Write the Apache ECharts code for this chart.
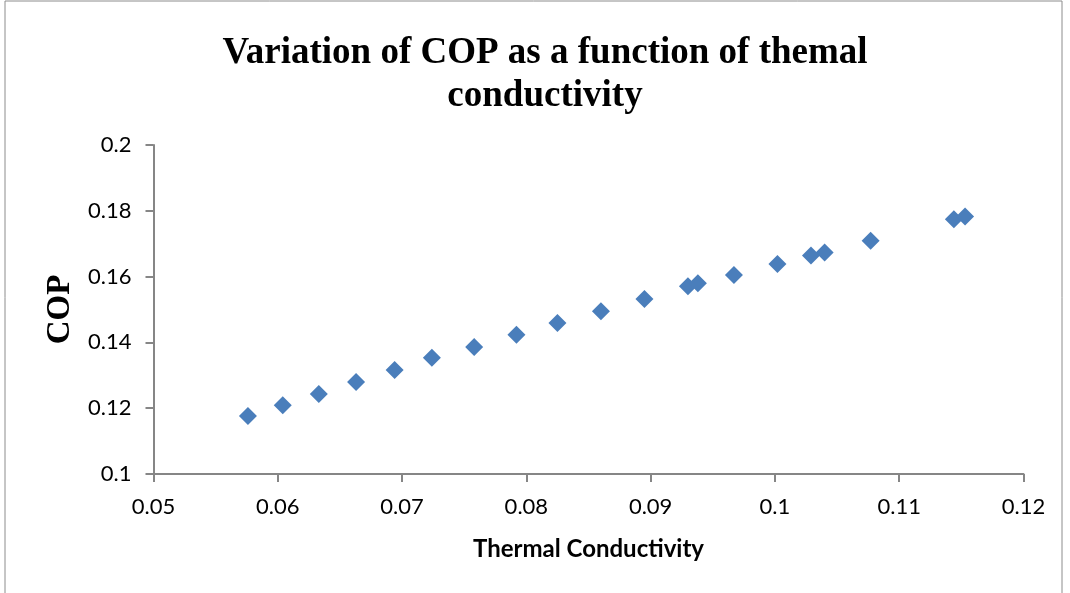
<!DOCTYPE html>
<html>
<head>
<meta charset="utf-8">
<script src="https://cdn.jsdelivr.net/npm/echarts@6/dist/echarts.min.js"></script>
<style>
  html, body { margin: 0; padding: 0; background: #fff; }
  #chart { width: 1070px; height: 593px; }
</style>
</head>
<body>
<div id="chart"></div>
<script>
// conductivity values
const conductivity = [0.0576, 0.0604, 0.0633, 0.0663, 0.0694, 0.0724, 0.0758, 0.0792, 0.0825, 0.0860,
  0.0895, 0.0930, 0.0938, 0.0967, 0.1002, 0.1029, 0.1040, 0.1077, 0.1144, 0.1153];
// COP for each point
const cop = [0.1176, 0.1209, 0.1243, 0.1280, 0.1316, 0.1353, 0.1386, 0.1423, 0.1459, 0.1495,
  0.1532, 0.1571, 0.1580, 0.1605, 0.1638, 0.1664, 0.1673, 0.1709, 0.1774, 0.1783];
const xTicks = [0.05, 0.06, 0.07, 0.08, 0.09, 0.1, 0.11, 0.12];
const yTicks = [0.1, 0.12, 0.14, 0.16, 0.18, 0.2];

const points = conductivity.map((x, i) => [x, cop[i]]);

const chart = echarts.init(document.getElementById('chart'));
const axisGray = '#868686';

const option = {
  animation: false,
  backgroundColor: '#fff',
  title: {
    text: 'Variation of COP as a function of themal\nconductivity',
    left: 540,
    top: 27,
    textAlign: 'center',
    textStyle: {
      fontFamily: '"Liberation Serif", "Times New Roman", serif',
      fontWeight: 'bold',
      fontSize: 37,
      lineHeight: 43,
      color: '#000'
    }
  },
  graphic: [{
    type: 'rect',
    shape: { x: 5, y: 1, width: 1057, height: 640 },
    style: { fill: 'none', stroke: '#8c8c8c', lineWidth: 1 },
    silent: true
  }],
  grid: { left: 153.5, right: 46.5, top: 145, bottom: 119 },
  xAxis: {
    type: 'value',
    min: xTicks[0],
    max: xTicks[xTicks.length - 1],
    interval: 0.01,
    name: 'Thermal Conductivity',
    nameLocation: 'middle',
    nameGap: 63,
    nameTextStyle: { fontFamily: 'Lato, "Open Sans", sans-serif', fontWeight: 'bold', fontSize: 24, color: '#000' },
    axisLine: { lineStyle: { color: axisGray, width: 2 } },
    axisTick: { show: true, length: 8, lineStyle: { color: axisGray, width: 2 } },
    splitLine: { show: false },
    axisLabel: {
      margin: 22,
      fontFamily: 'Lato, "Open Sans", sans-serif',
      fontSize: 22,
      color: '#000',
      formatter: v => String(+v.toFixed(2))
    }
  },
  yAxis: {
    type: 'value',
    min: yTicks[0],
    max: yTicks[yTicks.length - 1],
    interval: 0.02,
    name: 'COP',
    nameLocation: 'middle',
    nameRotate: 90,
    nameGap: 76,
    nameTextStyle: {
      fontFamily: '"Liberation Serif", "Times New Roman", serif',
      fontWeight: 'bold', fontSize: 33, color: '#000'
    },
    axisLine: { show: true, lineStyle: { color: axisGray, width: 2 } },
    axisTick: { show: true, length: 8, lineStyle: { color: axisGray, width: 2 } },
    splitLine: { show: false },
    axisLabel: {
      margin: 22,
      fontFamily: 'Lato, "Open Sans", sans-serif',
      fontSize: 22,
      color: '#000',
      formatter: v => String(+v.toFixed(2))
    }
  },
  series: [{
    type: 'scatter',
    data: points,
    symbol: 'diamond',
    symbolSize: [18, 18],
    itemStyle: { color: '#4A7EBB', opacity: 1 }
  }]
};

chart.setOption(option);
</script>
</body>
</html>
